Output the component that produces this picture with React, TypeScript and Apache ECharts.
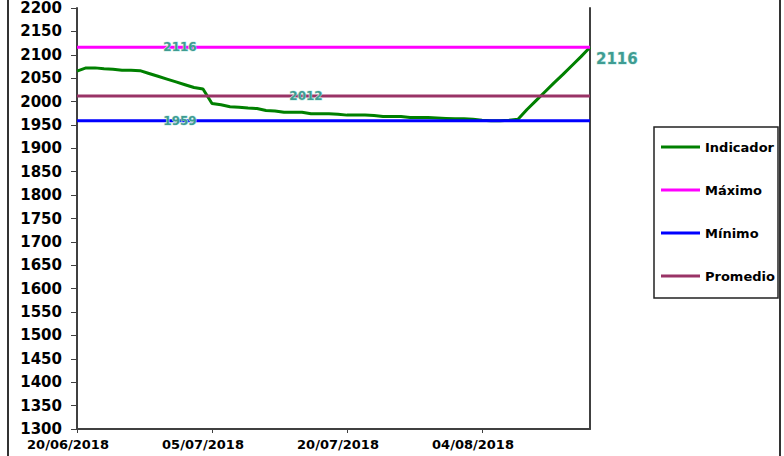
import React, { useEffect, useRef } from "react";
import * as echarts from "echarts";

const dates: string[] = [
  "20/06/2018", "21/06/2018", "22/06/2018", "23/06/2018", "24/06/2018", "25/06/2018", "26/06/2018", "27/06/2018", "28/06/2018", "29/06/2018", "30/06/2018",
  "01/07/2018", "02/07/2018", "03/07/2018", "04/07/2018", "05/07/2018", "06/07/2018", "07/07/2018", "08/07/2018", "09/07/2018", "10/07/2018",
  "11/07/2018", "12/07/2018", "13/07/2018", "14/07/2018", "15/07/2018", "16/07/2018", "17/07/2018", "18/07/2018", "19/07/2018", "20/07/2018",
  "21/07/2018", "22/07/2018", "23/07/2018", "24/07/2018", "25/07/2018", "26/07/2018", "27/07/2018", "28/07/2018", "29/07/2018", "30/07/2018",
  "31/07/2018", "01/08/2018", "02/08/2018", "03/08/2018", "04/08/2018", "05/08/2018", "06/08/2018", "07/08/2018", "08/08/2018", "09/08/2018",
  "10/08/2018", "11/08/2018", "12/08/2018", "13/08/2018", "14/08/2018", "15/08/2018", "16/08/2018",
];

const indicador: number[] = [
  2065, 2072, 2072, 2070, 2069, 2067, 2067, 2066, 2060, 2054,
  2048, 2042, 2036, 2030, 2027, 1996, 1993, 1989, 1988, 1986,
  1985, 1981, 1980, 1977, 1977, 1977, 1974, 1974, 1974, 1973,
  1971, 1971, 1971, 1970, 1968, 1968, 1968, 1966, 1966, 1966,
  1965, 1964, 1963, 1963, 1962, 1960, 1959, 1959, 1960, 1962,
  1983, 2002, 2021, 2040, 2058, 2077, 2096, 2116,
];

const maximo = 2116;
const minimo = 1959;
const promedio = 2012;

const seriesNames = ["Indicador", "Máximo", "Mínimo", "Promedio"];
const seriesColors = ["#008000", "#ff00ff", "#0000ff", "#993366"];

const FONT = "DejaVu Sans";
const LABEL_COLOR = "#3f9c92";

function constSeries(value: number, labelIndex: number) {
  return dates.map((_, i) =>
    i === labelIndex ? { value, label: { show: true } } : value
  );
}

export default function App() {
  const ref = useRef<HTMLDivElement>(null);

  useEffect(() => {
    if (!ref.current) return;
    const chart = echarts.init(ref.current, null, { renderer: "svg" });
    const refLabel = {
      show: false,
      position: "inside",
      offset: [4, 0],
      color: LABEL_COLOR,
      fontFamily: FONT,
      fontSize: 12,
      fontWeight: "bold",
      textBorderColor: "#c8eee8",
      textBorderWidth: 1,
    };
    const common = {
      type: "line",
      symbol: "circle",
      symbolSize: 0,
      showSymbol: true,
      showAllSymbol: true,
      emphasis: { disabled: true },
    };
    const lastIdx = indicador.length - 1;
    chart.setOption({
      animation: false,
      backgroundColor: "#ffffff",
      grid: { left: 77, right: 194, top: 8, bottom: 27, containLabel: false },
      graphic: [
        {
          type: "rect",
          z: -10,
          shape: { x: 8, y: -5, width: 772, height: 466 },
          style: { fill: "none", stroke: "#333", lineWidth: 2 },
        },
        {
          type: "rect",
          z: -5,
          shape: { x: 654, y: 127, width: 124, height: 171 },
          style: { fill: "#ffffff", stroke: "#222", lineWidth: 1.5 },
        },
      ],
      legend: {
        orient: "vertical",
        left: 661,
        top: 140,
        padding: 0,
        itemGap: 29,
        itemWidth: 39,
        itemHeight: 3,
        icon: "rect",
        data: seriesNames,
        textStyle: {
          fontFamily: FONT,
          fontSize: 13,
          fontWeight: "bold",
          color: "#000",
          lineHeight: 14,
        },
      },
      xAxis: {
        type: "category",
        data: dates,
        boundaryGap: false,
        axisLine: { lineStyle: { color: "#404040", width: 2 } },
        axisTick: { show: true, interval: 14, length: 4, lineStyle: { color: "#404040" } },
        axisLabel: {
          interval: 14,
          margin: 9,
          fontFamily: FONT,
          fontSize: 13,
          fontWeight: "bold",
          color: "#000",
          padding: [0, 18, 0, 0],
        },
        splitLine: { show: false },
      },
      yAxis: [
        {
          type: "value",
          min: 1300,
          max: 2200,
          interval: 50,
          axisLine: { show: true, lineStyle: { color: "#404040", width: 2 } },
          axisTick: { show: true, length: 6, lineStyle: { color: "#404040" } },
          axisLabel: {
            margin: 15,
            fontFamily: FONT,
            fontSize: 15,
            fontWeight: "bold",
            color: "#000",
            formatter: (v: number) => String(v),
          },
          splitLine: { show: false },
        },
        {
          type: "value",
          position: "right",
          min: 1300,
          max: 2200,
          interval: 50,
          axisLine: { show: true, lineStyle: { color: "#404040", width: 2 } },
          axisTick: { show: false },
          axisLabel: { show: false },
          splitLine: { show: false },
        },
      ],
      series: [
        {
          ...common,
          name: seriesNames[0],
          data: indicador.map((v, i) =>
            i === lastIdx ? { value: v, label: { show: true } } : v
          ),
          color: seriesColors[0],
          lineStyle: { color: seriesColors[0], width: 3 },
          label: {
            show: false,
            position: "right",
            distance: 6,
            offset: [0, 12],
            color: LABEL_COLOR,
            fontFamily: FONT,
            fontSize: 15,
            fontWeight: "bold",
            textBorderColor: "#c8eee8",
            textBorderWidth: 1,
          },
          z: 2,
        },
        {
          ...common,
          name: seriesNames[1],
          data: constSeries(maximo, 11),
          color: seriesColors[1],
          lineStyle: { color: seriesColors[1], width: 3 },
          label: refLabel,
          z: 3,
        },
        {
          ...common,
          name: seriesNames[2],
          data: constSeries(minimo, 11),
          color: seriesColors[2],
          lineStyle: { color: seriesColors[2], width: 3 },
          label: refLabel,
          z: 3,
        },
        {
          ...common,
          name: seriesNames[3],
          data: constSeries(promedio, 25),
          color: seriesColors[3],
          lineStyle: { color: seriesColors[3], width: 3 },
          label: refLabel,
          z: 3,
        },
      ],
    });
    return () => chart.dispose();
  }, []);

  return (
    <div
      ref={ref}
      style={{ position: "fixed", left: 0, top: 0, width: 784, height: 456 }}
    />
  );
}
